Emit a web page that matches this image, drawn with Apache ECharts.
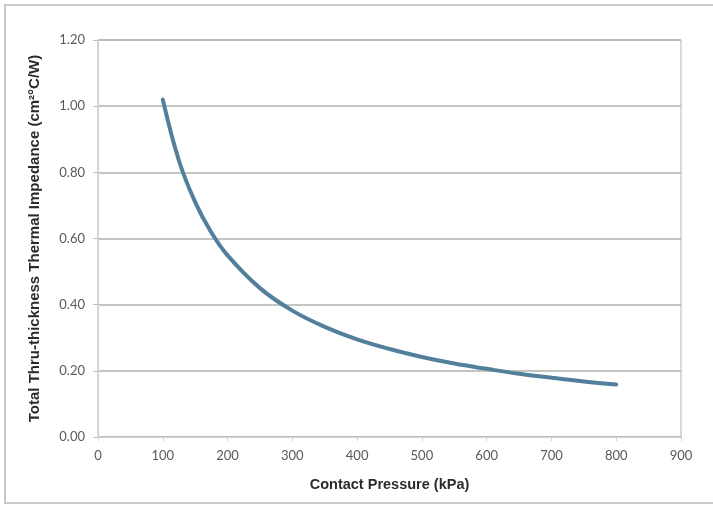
<!DOCTYPE html>
<html>
<head>
<meta charset="utf-8">
<script src="https://cdn.jsdelivr.net/npm/echarts@6/dist/echarts.min.js"></script>
<style>
  html, body { margin: 0; padding: 0; background: #fff; }
  #chart { width: 713px; height: 506px; }
</style>
</head>
<body>
<div id="chart"></div>
<script>
// values
const pressure = [100, 125, 150, 175, 200, 250, 300, 350, 400, 450, 500, 550, 600, 650, 700, 750, 800];
const impedance = [1.02, 0.835, 0.71, 0.618, 0.549, 0.45, 0.382, 0.333, 0.295, 0.266, 0.242, 0.222, 0.206, 0.191, 0.179, 0.168, 0.159];

(function () {
  const points = pressure.map((p, i) => [p, impedance[i]]);
  const labelFont = 'Lato, "Open Sans", sans-serif';
  const titleFont = '"Liberation Sans", Arial, sans-serif';

  const option = {
    animation: false,
    backgroundColor: '#fff',
    graphic: [{
      type: 'rect',
      shape: { x: 5, y: 5, width: 760, height: 498 },
      style: { fill: 'none', stroke: '#c9c9c9', lineWidth: 2 },
      silent: true
    }],
    grid: { left: 98, right: 32, top: 40, bottom: 69, show: true, borderColor: '#b5b5b5', borderWidth: 1 },
    xAxis: {
      type: 'value',
      min: 0,
      max: 900,
      interval: 100,
      name: 'Contact Pressure (kPa)',
      nameLocation: 'middle',
      nameGap: 40,
      nameTextStyle: { fontFamily: titleFont, fontWeight: 'bold', fontSize: 14.5, color: '#2b2b2b' },
      axisLine: { show: true, lineStyle: { color: '#d0d0d0' } },
      axisTick: { show: true, inside: false, length: 4, lineStyle: { color: '#d0d0d0' } },
      axisLabel: { fontFamily: labelFont, fontSize: 13, color: '#595959', margin: 12 },
      splitLine: { show: false }
    },
    yAxis: {
      type: 'value',
      min: 0,
      max: 1.2,
      interval: 0.2,
      name: 'Total Thru-thickness Thermal Impedance (cm\u00b2°C/W)',
      nameLocation: 'middle',
      nameGap: 56,
      nameTextStyle: { fontFamily: titleFont, fontWeight: 'bold', fontSize: 15, color: '#2b2b2b' },
      axisLine: { show: true, lineStyle: { color: '#d0d0d0' } },
      axisTick: { show: true, length: 5, lineStyle: { color: '#c0c0c0' } },
      axisLabel: {
        fontFamily: labelFont, fontSize: 13, color: '#595959', margin: 13,
        formatter: v => v.toFixed(2)
      },
      splitLine: { show: true, lineStyle: { color: '#b0b0b0', width: 1.5 } }
    },
    series: [{
      type: 'line',
      data: points,
      smooth: 0.4,
      showSymbol: false,
      lineStyle: { color: '#52809c', width: 4, cap: 'round' }
    }]
  };

  const chart = echarts.init(document.getElementById('chart'));
  chart.setOption(option);
})();
</script>
</body>
</html>
